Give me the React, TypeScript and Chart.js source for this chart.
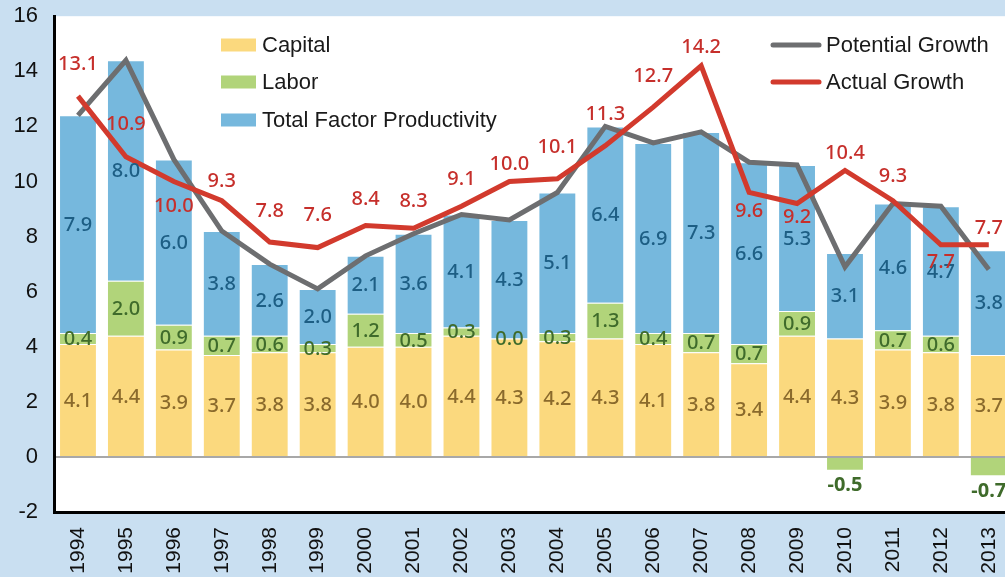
import React, { useEffect, useRef } from 'react';
import { Chart, registerables } from 'chart.js';

Chart.register(...registerables);

const YEARS = ['1994', '1995', '1996', '1997', '1998', '1999', '2000', '2001', '2002', '2003', '2004', '2005', '2006', '2007', '2008', '2009', '2010', '2011', '2012', '2013'];
const CAPITAL = [4.1, 4.4, 3.9, 3.7, 3.8, 3.8, 4.0, 4.0, 4.4, 4.3, 4.2, 4.3, 4.1, 3.8, 3.4, 4.4, 4.3, 3.9, 3.8, 3.7];
const LABOR = [0.4, 2.0, 0.9, 0.7, 0.6, 0.3, 1.2, 0.5, 0.3, 0.0, 0.3, 1.3, 0.4, 0.7, 0.7, 0.9, -0.5, 0.7, 0.6, -0.7];
const TFP = [7.9, 8.0, 6.0, 3.8, 2.6, 2.0, 2.1, 3.6, 4.1, 4.3, 5.1, 6.4, 6.9, 7.3, 6.6, 5.3, 3.1, 4.6, 4.7, 3.8];
const POTENTIAL = [12.4, 14.4, 10.8, 8.2, 7.0, 6.1, 7.3, 8.1, 8.8, 8.6, 9.6, 12.0, 11.4, 11.8, 10.7, 10.6, 6.9, 9.2, 9.1, 6.8];
const ACTUAL = [13.1, 10.9, 10.0, 9.3, 7.8, 7.6, 8.4, 8.3, 9.1, 10.0, 10.1, 11.3, 12.7, 14.2, 9.6, 9.2, 10.4, 9.3, 7.7, 7.7];
const Y_TICKS = [-2, 0, 2, 4, 6, 8, 10, 12, 14, 16];

// label placement (pixels, vertical nudge of the Actual Growth labels)
const ACTUAL_LABEL_DY = [-32, -32, 25, -19, -31, -32, -26, -27, -27, -17, -31, -31, -31, -18, 19, 14, -17, -24, 17, -17];

const COLORS = {
  bg: '#c9dff1',
  capital: '#fbd97e',
  labor: '#b1d47a',
  tfp: '#76b8dd',
  potential: '#6d6e70',
  actual: '#d23a2d',
  capitalText: '#8a6a2c',
  laborText: '#3f6b2b',
  tfpText: '#1d5e84',
  actualText: '#c62f2b',
};

const LABEL_FONT = '"Noto Sans", "Open Sans", sans-serif';
const AXIS_FONT = '"Liberation Sans", Arial, sans-serif';

const backgroundPlugin = {
  id: 'bgPlot',
  beforeDraw(chart: any) {
    const { ctx, chartArea, width, height } = chart;
    ctx.save();
    ctx.fillStyle = COLORS.bg;
    ctx.fillRect(0, 0, width, height);
    ctx.fillStyle = '#ffffff';
    ctx.fillRect(chartArea.left, chartArea.top, chartArea.right - chartArea.left, chartArea.bottom - chartArea.top);
    ctx.restore();
  },
};

const valueLabelPlugin = {
  id: 'valueLabels',
  afterDatasetsDraw(chart: any) {
    const ctx = chart.ctx;
    ctx.save();
    ctx.textAlign = 'center';
    ctx.textBaseline = 'middle';
    const barSeries = [
      { values: CAPITAL, color: COLORS.capitalText },
      { values: LABOR, color: COLORS.laborText },
      { values: TFP, color: COLORS.tfpText },
    ];
    barSeries.forEach((s, di) => {
      const meta = chart.getDatasetMeta(di);
      meta.data.forEach((el: any, i: number) => {
        const v = s.values[i];
        let ty = (el.y + el.base) / 2;
        if (v < 0) {
          ty = el.y + 14;
          ctx.font = `700 20px ${LABEL_FONT}`;
        } else {
          ctx.font = `500 20px ${LABEL_FONT}`;
        }
        ctx.fillStyle = s.color;
        ctx.fillText(v.toFixed(1), el.x, ty + 1);
      });
    });
    const meta = chart.getDatasetMeta(4);
    ctx.font = `500 20px ${LABEL_FONT}`;
    ctx.fillStyle = COLORS.actualText;
    meta.data.forEach((pt: any, i: number) => {
      ctx.fillText(ACTUAL[i].toFixed(1), pt.x, pt.y + ACTUAL_LABEL_DY[i]);
    });
    ctx.restore();
  },
};

const legendPlugin = {
  id: 'customLegend',
  afterDraw(chart: any) {
    const ctx = chart.ctx;
    ctx.save();
    ctx.font = `22px ${AXIS_FONT}`;
    ctx.textBaseline = 'middle';
    ctx.textAlign = 'left';
    const boxes = [
      { label: 'Capital', color: COLORS.capital, y: 45 },
      { label: 'Labor', color: COLORS.labor, y: 82 },
      { label: 'Total Factor Productivity', color: COLORS.tfp, y: 120 },
    ];
    boxes.forEach((b) => {
      ctx.fillStyle = b.color;
      ctx.fillRect(221, b.y - 6.5, 35, 13);
      ctx.fillStyle = '#1a1a1a';
      ctx.fillText(b.label, 262, b.y + 1);
    });
    const lines = [
      { label: 'Potential Growth', color: COLORS.potential, y: 45 },
      { label: 'Actual Growth', color: COLORS.actual, y: 82 },
    ];
    lines.forEach((l) => {
      ctx.strokeStyle = l.color;
      ctx.lineWidth = 5;
      ctx.lineCap = 'round';
      ctx.beginPath();
      ctx.moveTo(773, l.y);
      ctx.lineTo(819, l.y);
      ctx.stroke();
      ctx.fillStyle = '#1a1a1a';
      ctx.fillText(l.label, 826, l.y + 1);
    });
    ctx.restore();
  },
};

export default function App() {
  const canvasRef = useRef<HTMLCanvasElement | null>(null);

  useEffect(() => {
    const canvas = canvasRef.current;
    if (!canvas) return;
    const barCommon = {
      type: 'bar',
      borderColor: 'rgba(255,255,255,0.3)',
      borderWidth: 1,
      stack: 'bars',
      order: 2,
      categoryPercentage: 1,
      barPercentage: 0.79,
    };
    const chart = new Chart(canvas, {
      type: 'bar',
      data: {
        labels: YEARS,
        datasets: [
          { ...barCommon, label: 'Capital', data: CAPITAL, backgroundColor: COLORS.capital },
          { ...barCommon, label: 'Labor', data: LABOR, backgroundColor: COLORS.labor },
          { ...barCommon, label: 'Total Factor Productivity', data: TFP, backgroundColor: COLORS.tfp },
          {
            type: 'line',
            label: 'Potential Growth',
            data: POTENTIAL,
            borderColor: COLORS.potential,
            backgroundColor: COLORS.potential,
            borderWidth: 5,
            pointRadius: 0,
            tension: 0,
            fill: false,
            stack: 'potential',
            order: 1,
          },
          {
            type: 'line',
            label: 'Actual Growth',
            data: ACTUAL,
            borderColor: COLORS.actual,
            backgroundColor: COLORS.actual,
            borderWidth: 5,
            pointRadius: 0,
            tension: 0,
            fill: false,
            stack: 'actual',
            order: 0,
          },
        ] as any,
      },
      options: {
        responsive: false,
        animation: false,
        layout: { padding: { top: 4, right: 0, left: 0, bottom: 0 } },
        plugins: {
          legend: { display: false },
          tooltip: { enabled: false },
        },
        scales: {
          x: {
            stacked: true,
            grid: { display: false, drawTicks: false },
            border: { color: '#000000', width: 3 },
            ticks: {
              autoSkip: false,
              minRotation: 90,
              maxRotation: 90,
              padding: 15,
              color: '#111111',
              font: { family: AXIS_FONT, size: 21 },
            },
            afterFit(scale: any) {
              scale.height = 65;
            },
          } as any,
          y: {
            stacked: true,
            min: -2,
            max: 16,
            afterBuildTicks(scale: any) {
              scale.ticks = Y_TICKS.map((v) => ({ value: v }));
            },
            grid: {
              drawTicks: true,
              tickLength: 13,
              tickColor: 'rgba(0,0,0,0)',
              lineWidth: 2,
              color: (c: any) => (c.tick && c.tick.value === 0 ? '#a8a8a8' : 'rgba(0,0,0,0)'),
            },
            border: { color: '#000000', width: 3 },
            ticks: {
              padding: 3,
              color: '#111111',
              font: { family: AXIS_FONT, size: 22 },
            },
            afterFit(scale: any) {
              scale.width = 54;
            },
          } as any,
        },
      },
      plugins: [backgroundPlugin, valueLabelPlugin, legendPlugin],
    });
    return () => chart.destroy();
  }, []);

  return (
    <div
      style={{
        position: 'fixed',
        left: 0,
        top: 0,
        width: 1005,
        height: 577,
        overflow: 'hidden',
        background: COLORS.bg,
      }}
    >
      <canvas ref={canvasRef} width={1029} height={577} style={{ display: 'block', width: 1029, height: 577 }} />
    </div>
  );
}
